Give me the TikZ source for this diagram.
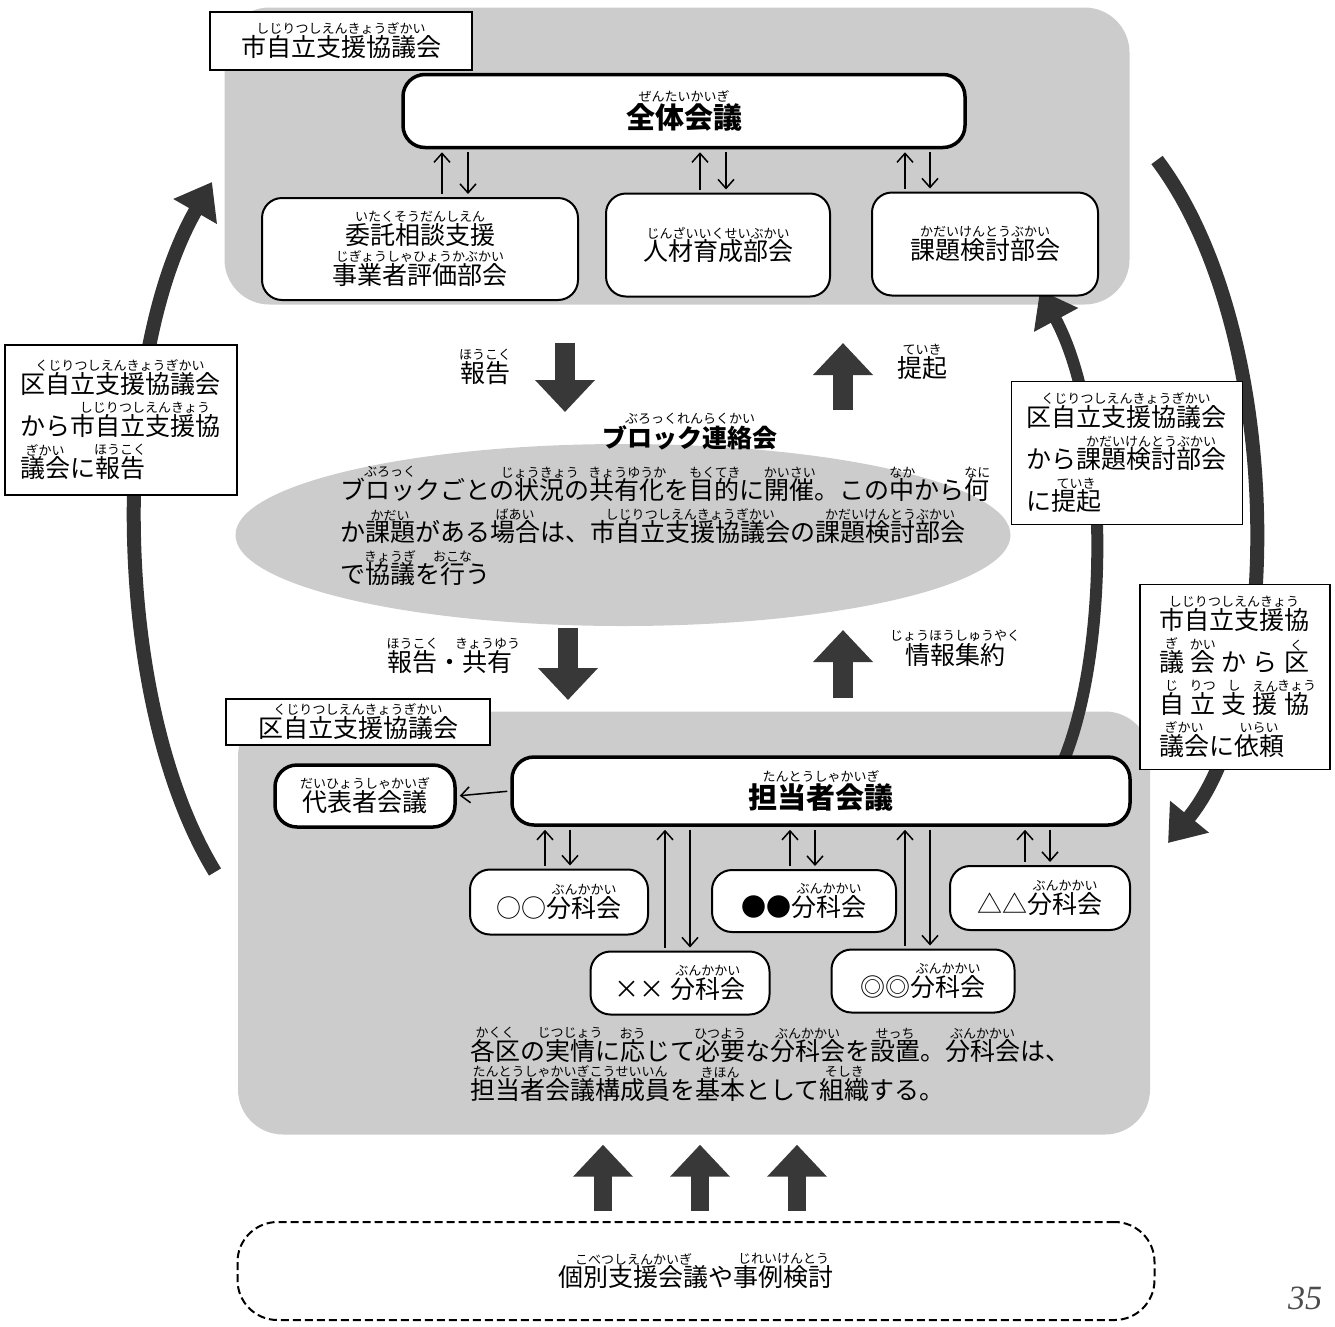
\documentclass[tikz,border=0pt]{standalone}
\usepackage{fontspec}
\setmainfont{Noto Sans CJK JP}
\newfontfamily\numfont{Liberation Serif}
\usetikzlibrary{arrows.meta,positioning,shapes.geometric}

% ruby over a word
\newsavebox\rbbox
\newcommand\rbfont{\mdseries\fontsize{13}{13}\selectfont}
\newcommand\rb[2]{\leavevmode\setbox\rbbox\hbox{#1}\vbox{\offinterlineskip\hbox to\wd\rbbox{\hss\rbfont#2\hss}\kern1pt\box\rbbox}}
\newcommand\spread[1]{\leavevmode\hbox to 150pt{#1}}

\begin{document}
\begin{tikzpicture}[x=1pt,y=-1pt,font=\fontsize{25}{42}\selectfont,
 region/.style={fill=black!20,rounded corners=45pt,inner sep=0pt},
 tag/.style={draw,line width=1.5pt,fill=white,inner sep=0pt},
 note/.style={draw,line width=1.5pt,fill=white,align=left,inner sep=0pt},
 meet/.style={draw,line width=3.5pt,rounded corners=22pt,fill=white,inner sep=0pt,font=\fontsize{29}{42}\selectfont\bfseries},
 sub/.style={draw,line width=2pt,rounded corners=20pt,fill=white,inner sep=0pt,align=center},
 pair/.style={line width=1.5pt,-{Straight Barb[length=9pt,width=16pt]},shorten >=3pt,shorten <=3pt},
 bigarc/.style={line width=14pt,black!80,-{Triangle[length=34pt,width=48pt]}},
 blk/.style={line width=20pt,black!78,-{Triangle[length=32pt,width=58pt]}}]
\useasboundingbox (0,0) rectangle (1335,1326);

% grey areas
\node[region,minimum width=905pt,minimum height=297pt] (shi) at (677,156) {};
\node[region,minimum width=912pt,minimum height=423pt] (ku) at (694,923) {};
\node[ellipse,fill=black!20,minimum width=775pt,minimum height=182pt,inner sep=0pt] (block) at (623,535) {};

% big loop arrows
\coordinate (kuL) at (215,872); \coordinate (shiL) at (212,182);
\coordinate (shiR) at (1157,160); \coordinate (kuR) at (1168,843);
\coordinate (tantoR) at (1063,762); \coordinate (kadaiR) at (1040,290);
\draw[bigarc] (kuL) .. controls (110,700) and (110,360) .. (shiL);
\draw[bigarc] (shiR) .. controls (1285,330) and (1285,700) .. (kuR);
\draw[bigarc,line width=12pt] (tantoR) .. controls (1110,650) and (1110,420) .. (kadaiR);

% city council
\node[tag,minimum width=262pt,minimum height=58pt] (shitag) at (341,41) {\rb{市自立支援協議会}{しじりつしえんきょうぎかい}};
\node[meet,minimum width=562pt,minimum height=73pt] (zentai) at (684,111) {\rb{全体会議}{ぜんたいかいぎ}};
\node[sub,minimum width=316pt,minimum height=102pt,font=\fontsize{25}{40}\selectfont] (itaku) at (420,249) {\rb{委託相談支援}{いたくそうだんしえん}\\\rb{事業者評価部会}{じぎょうしゃひょうかぶかい}};
\node[sub,minimum width=224pt,minimum height=103pt] (jinzai) at (718,245) {\rb{人材育成部会}{じんざいいくせいぶかい}};
\node[sub,minimum width=226pt,minimum height=103pt] (kadai) at (985,244) {\rb{課題検討部会}{かだいけんとうぶかい}};
\draw[pair] (itaku.north -| 442,0) -- (zentai.south -| 442,0);
\draw[pair] (zentai.south -| 468,0) -- (itaku.north -| 468,0);
\draw[pair] (jinzai.north -| 700,0) -- (zentai.south -| 700,0);
\draw[pair] (zentai.south -| 726,0) -- (jinzai.north -| 726,0);
\draw[pair] (kadai.north -| 905,0) -- (zentai.south -| 905,0);
\draw[pair] (zentai.south -| 930,0) -- (kadai.north -| 930,0);

% side notes
\node[note,minimum width=232pt,minimum height=150pt,text width=202pt] (kuhou) at (121,420) {\rb{区自立支援協議会}{くじりつしえんきょうぎかい}\\から\rb{市自立支援協}{しじりつしえんきょう}\\\rb{議会}{ぎかい}に\rb{報告}{ほうこく}};
\node[note,minimum width=231pt,minimum height=143pt,text width=202pt] (kuteiki) at (1127,453) {\rb{区自立支援協議会}{くじりつしえんきょうぎかい}\\から\rb{課題検討部会}{かだいけんとうぶかい}\\に\rb{提起}{ていき}};
\node[note,minimum width=190pt,minimum height=185pt,text width=152pt] (shirai) at (1235,677) {\rb{市自立支援協}{しじりつしえんきょう}\\\spread{\rb{議}{ぎ}\hfil\rb{会}{かい}\hfil か\hfil ら\hfil\rb{区}{く}}\\\spread{\rb{自}{じ}\hfil\rb{立}{りつ}\hfil\rb{支}{し}\hfil\rb{援}{えん}\hfil\rb{協}{きょう}}\\\rb{議会}{ぎかい}に\rb{依頼}{いらい}};

% block liaison
\coordinate (hou1s) at (565,343); \coordinate (hou1e) at (565,412);
\coordinate (tei1s) at (843,410); \coordinate (tei1e) at (843,343);
\coordinate (hou2s) at (568,628); \coordinate (hou2e) at (568,700);
\coordinate (jou1s) at (843,698); \coordinate (jou1e) at (843,630);
\draw[blk] (hou1s) -- (hou1e);
\draw[blk] (tei1s) -- (tei1e);
\draw[blk] (hou2s) -- (hou2e);
\draw[blk] (jou1s) -- (jou1e);
\node[anchor=base] (houlbl) at (485,382) {\rb{報告}{ほうこく}};
\node[anchor=base] (teilbl) at (922,377) {\rb{提起}{ていき}};
\node[anchor=base] (kyolbl) at (450,671) {\rb{報告}{ほうこく}・\rb{共有}{きょうゆう}};
\node[anchor=base] (joulbl) at (955,664) {\rb{情報集約}{じょうほうしゅうやく}};
\node[anchor=base,font=\fontsize{25}{42}\selectfont\bfseries] (blocktitle) at (690,447) {\rb{ブロック連絡会}{ぶろっくれんらくかい}};
\node[anchor=north west,align=left,inner sep=0pt] (blocktext) at (340,466) {\rb{ブロック}{ぶろっく}ごとの\rb{状況}{じょうきょう}の\rb{共有化}{きょうゆうか}を\rb{目的}{もくてき}に\rb{開催}{かいさい}。この\rb{中}{なか}から\rb{何}{なに}\\か\rb{課題}{かだい}がある\rb{場合}{ばあい}は、\rb{市自立支援協議会}{しじりつしえんきょうぎかい}の\rb{課題検討部会}{かだいけんとうぶかい}\\で\rb{協議}{きょうぎ}を\rb{行}{おこな}う};

% ward council
\node[tag,minimum width=264pt,minimum height=46pt] (kutag) at (358,722) {\rb{区自立支援協議会}{くじりつしえんきょうぎかい}};
\node[meet,minimum width=180pt,minimum height=62pt,font=\fontsize{25}{42}\selectfont] (daihyo) at (365,796) {\rb{代表者会議}{だいひょうしゃかいぎ}};
\node[meet,minimum width=618pt,minimum height=68pt] (tanto) at (821,791) {\rb{担当者会議}{たんとうしゃかいぎ}};
\draw[pair] (tanto.west) -- (daihyo.east);
\node[sub,minimum width=178pt,minimum height=65pt] (bunA) at (559,902) {○○\rb{分科会}{ぶんかかい}};
\node[sub,minimum width=184pt,minimum height=62pt] (bunB) at (804,901) {●●\rb{分科会}{ぶんかかい}};
\node[sub,minimum width=180pt,minimum height=64pt] (bunC) at (1040,898) {△△\rb{分科会}{ぶんかかい}};
\node[sub,minimum width=179pt,minimum height=63pt] (bunD) at (680,983) {×× \rb{分科会}{ぶんかかい}};
\node[sub,minimum width=183pt,minimum height=63pt] (bunE) at (923,981) {◎◎\rb{分科会}{ぶんかかい}};
\draw[pair] (bunA.north -| 545,0) -- (tanto.south -| 545,0);
\draw[pair] (tanto.south -| 570,0) -- (bunA.north -| 570,0);
\draw[pair] (bunD.north -| 665,0) -- (tanto.south -| 665,0);
\draw[pair] (tanto.south -| 690,0) -- (bunD.north -| 690,0);
\draw[pair] (bunB.north -| 790,0) -- (tanto.south -| 790,0);
\draw[pair] (tanto.south -| 815,0) -- (bunB.north -| 815,0);
\draw[pair] (bunE.north -| 905,0) -- (tanto.south -| 905,0);
\draw[pair] (tanto.south -| 930,0) -- (bunE.north -| 930,0);
\draw[pair] (bunC.north -| 1025,0) -- (tanto.south -| 1025,0);
\draw[pair] (tanto.south -| 1050,0) -- (bunC.north -| 1050,0);
\node[anchor=north west,align=left,inner sep=0pt,font=\fontsize{25}{39}\selectfont] (kutext) at (470,1027) {\rb{各区}{かくく}の\rb{実情}{じつじょう}に\rb{応}{おう}じて\rb{必要}{ひつよう}な\rb{分科会}{ぶんかかい}を\rb{設置}{せっち}。\rb{分科会}{ぶんかかい}は、\\\rb{担当者会議構成員}{たんとうしゃかいぎこうせいいん}を\rb{基本}{きほん}として\rb{組織}{そしき}する。};

% individual support
\node[draw,dashed,dash pattern=on 8pt off 4pt,line width=2pt,rounded corners=40pt,minimum width=917pt,minimum height=98pt,inner sep=0pt] (kobetsu) at (696,1271) {\rb{個別支援会議}{こべつしえんかいぎ}や\rb{事例検討}{じれいけんとう}};
\draw[blk,line width=18pt,shorten <=10pt,shorten >=10pt] (kobetsu.north -| 603,0) -- (ku.south -| 603,0);
\draw[blk,line width=18pt,shorten <=10pt,shorten >=10pt] (kobetsu.north -| 700,0) -- (ku.south -| 700,0);
\draw[blk,line width=18pt,shorten <=10pt,shorten >=10pt] (kobetsu.north -| 797,0) -- (ku.south -| 797,0);

\node[font=\numfont\itshape\fontsize{34}{34}\selectfont,text=black!70] (pg) at (1305,1298) {35};
\end{tikzpicture}
\end{document}
